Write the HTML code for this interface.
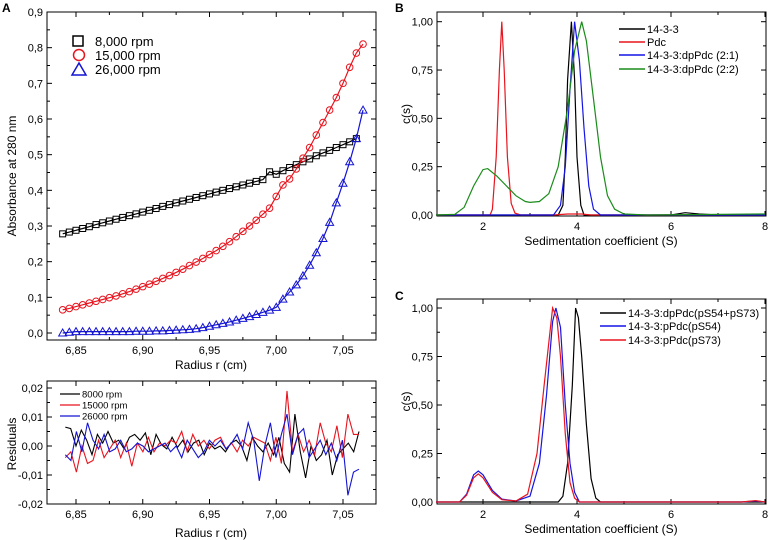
<!DOCTYPE html>
<html><head><meta charset="utf-8"><style>
html,body{margin:0;padding:0;background:#fff;}
svg{display:block;font-family:"Liberation Sans",Arial,sans-serif;}
</style></head><body>
<svg id="fig" width="769" height="540" viewBox="0 0 769 540"></svg>
<script>
// ---------- data ----------
const radiusStart = 6.84, radiusStep = 0.005;
const abs8000 = [0.278,0.283,0.288,0.293,0.298,0.304,0.309,0.314,0.319,0.324,0.329,0.334,0.339,0.344,0.349,0.355,0.360,0.365,0.370,0.375,0.380,0.385,0.390,0.395,0.400,0.405,0.410,0.415,0.420,0.425,0.430,0.452,0.445,0.455,0.464,0.472,0.480,0.488,0.497,0.505,0.512,0.520,0.528,0.536,0.545];
const abs15000 = [0.065,0.069,0.074,0.079,0.084,0.089,0.094,0.099,0.104,0.110,0.116,0.123,0.130,0.137,0.145,0.153,0.161,0.170,0.179,0.189,0.199,0.209,0.220,0.231,0.243,0.256,0.270,0.285,0.300,0.316,0.333,0.350,0.383,0.415,0.432,0.460,0.490,0.520,0.555,0.590,0.625,0.660,0.700,0.745,0.785,0.810];
const abs26000 = [0.000,0.002,0.004,0.004,0.004,0.004,0.004,0.004,0.004,0.004,0.004,0.005,0.005,0.005,0.006,0.006,0.007,0.008,0.009,0.010,0.012,0.015,0.019,0.023,0.027,0.031,0.036,0.041,0.046,0.052,0.058,0.064,0.072,0.095,0.115,0.135,0.160,0.190,0.225,0.265,0.310,0.365,0.420,0.480,0.545,0.625];
const res8000 = [0.0065,0.006,0.000,0.0055,0.002,-0.003,0.004,0.001,0.005,0.001,0.002,-0.001,0.003,0.004,0.002,0.0045,-0.003,0.004,0.0005,-0.001,0.003,-0.0005,0.002,-0.002,0.001,0.002,-0.003,0.001,-0.001,0.000,-0.002,0.001,0.002,0.000,-0.005,0.003,0.000,-0.002,0.001,-0.003,0.003,-0.006,-0.009,0.011,-0.002,-0.011,0.000,-0.005,-0.003,0.002,-0.010,-0.003,-0.001,0.001,-0.002,0.005];
const res15000 = [-0.004,-0.002,-0.009,0.000,-0.006,-0.005,0.002,-0.004,-0.001,0.002,-0.004,0.001,-0.007,0.001,-0.002,0.003,-0.002,0.001,0.000,0.002,0.001,0.005,-0.002,0.004,0.000,0.002,-0.001,0.002,0.003,-0.001,0.001,-0.002,0.002,0.000,0.003,0.002,0.001,-0.005,0.003,-0.006,0.019,-0.002,0.004,-0.002,0.002,-0.003,0.008,0.001,-0.002,0.007,-0.004,0.011,0.004,0.004];
const res26000 = [-0.003,-0.005,0.005,-0.002,0.008,0.002,-0.001,0.004,-0.002,-0.001,0.002,-0.002,-0.001,0.001,0.000,-0.002,-0.001,0.000,0.001,-0.002,0.000,-0.004,0.002,-0.001,-0.004,-0.002,0.002,0.000,0.002,-0.001,0.001,0.004,-0.001,0.008,0.002,-0.012,0.000,0.008,-0.004,0.004,0.011,-0.003,0.004,0.006,-0.004,-0.001,0.002,-0.003,0.001,-0.005,0.002,-0.017,-0.009,-0.008];
const resStep = 0.0042;

const bS_1433 = [1,3.6,3.7,3.75,3.8,3.88,3.95,4.0,4.08,4.15,6.0,6.3,6.6,7,8];
const bC_1433 = [0,0,0.05,0.3,0.7,1.0,0.7,0.3,0.05,0,0,0.012,0.005,0,0];
const bS_pdc = [1,2.15,2.2,2.28,2.35,2.4,2.45,2.52,2.6,2.68,2.8,3.5,3.8,4.1,4.3,8];
const bC_pdc = [0,0,0.03,0.3,0.75,1.0,0.75,0.3,0.06,0.01,0,0,0.005,0.005,0,0];
const bS_21 = [1,3.5,3.65,3.75,3.85,3.95,4.05,4.15,4.25,4.35,4.5,8];
const bC_21 = [0,0,0.05,0.25,0.65,1.0,0.8,0.45,0.15,0.03,0,0];
const bS_22 = [1.0,1.4,1.6,1.8,2.0,2.1,2.3,2.5,2.7,2.9,3.0,3.2,3.4,3.6,3.8,3.95,4.1,4.2,4.35,4.5,4.65,4.8,5,5.5,8];
const bC_22 = [0,0.003,0.04,0.15,0.235,0.24,0.2,0.15,0.1,0.07,0.065,0.07,0.11,0.25,0.55,0.85,1.0,0.9,0.6,0.3,0.1,0.03,0.005,0,0.005];

const cS_dp = [1,3.6,3.7,3.8,3.9,3.97,4.03,4.1,4.2,4.3,4.4,4.5,8];
const cC_dp = [0,0,0.03,0.2,0.6,1.0,0.95,0.75,0.4,0.12,0.02,0,0];
const cS_54 = [1,1.5,1.65,1.8,1.9,2.0,2.2,2.4,2.7,3.0,3.2,3.35,3.48,3.55,3.65,3.75,3.85,3.95,4.05,7.5,7.8,8];
const cC_54 = [0,0,0.04,0.14,0.16,0.14,0.06,0.015,0.005,0.03,0.2,0.55,0.93,1.0,0.9,0.5,0.2,0.05,0,0,0.005,0];
const cS_73 = [1,1.5,1.65,1.8,1.9,2.0,2.2,2.4,2.7,2.95,3.15,3.3,3.48,3.57,3.65,3.75,3.85,3.95,4.05,7.5,7.8,8];
const cC_73 = [0,0,0.035,0.125,0.145,0.125,0.05,0.012,0.005,0.04,0.25,0.6,1.0,0.95,0.75,0.35,0.1,0.02,0,0,0.007,0];

// ---------- helpers ----------
const NS = "http://www.w3.org/2000/svg";
const svg = document.getElementById("fig");
function mk(tag, attrs, parent){ const e=document.createElementNS(NS,tag); for(const k in attrs) e.setAttribute(k,attrs[k]); (parent||svg).appendChild(e); return e; }
function scale(d0,d1,r0,r1){ return v => r0 + (v-d0)*(r1-r0)/(d1-d0); }
function txt(x,y,s,size,anchor,parent,extra){ const t=mk("text",Object.assign({x:x,y:y,"font-size":size,"text-anchor":anchor||"start",fill:"#000"},extra||{}),parent); t.textContent=s; return t; }

function frame(g,L,T,R,B,xt,xm,yt,ym,sx,sy,xfmt,yfmt){
  const box = mk("rect",{x:L,y:T,width:R-L,height:B-T,fill:"none",stroke:"#000","stroke-width":1},g);
  
  
  const tk = mk("g",{stroke:"#000","stroke-width":1},g);
  
  
  xt.forEach(v=>{const x=sx(v); mk("line",{x1:x,y1:B,x2:x,y2:B-5},tk); mk("line",{x1:x,y1:T,x2:x,y2:T+5},tk);});
  xm.forEach(v=>{const x=sx(v); mk("line",{x1:x,y1:B,x2:x,y2:B-3},tk); mk("line",{x1:x,y1:T,x2:x,y2:T+3},tk);});
  yt.forEach(v=>{const y=sy(v); mk("line",{x1:L,y1:y,x2:L+5,y2:y},tk); mk("line",{x1:R,y1:y,x2:R-5,y2:y},tk);});
  ym.forEach(v=>{const y=sy(v); mk("line",{x1:L,y1:y,x2:L+3,y2:y},tk); mk("line",{x1:R,y1:y,x2:R-3,y2:y},tk);});
  const xl = mk("g",{},g);
  
  
  xt.forEach(v=>txt(sx(v),B+14,xfmt(v),11,"middle",xl));
  const yl = mk("g",{},g);
  
  
  yt.forEach(v=>txt(L-4,sy(v)+4,yfmt(v),11,"end",yl));
}
function poly(g,xs,ys,sx,sy,color,w){
  const pts = xs.map((x,i)=>sx(x).toFixed(1)+","+sy(ys[i]).toFixed(1)).join(" ");
  return mk("polyline",{points:pts,fill:"none",stroke:color,"stroke-width":w||1},g);
}
const c2 = v => v.toFixed(2).replace(".",",");
const c1 = v => v.toFixed(1).replace(".",",");

// ---------- panel A top ----------
(function(){
  const g = mk("g",{});
  
  
  const L=47,T=12,R=376,B=340;
  const sx = scale(6.85,7.05,76,343), sy = scale(0,0.9,333,12);
  frame(g,L,T,R,B,[6.85,6.90,6.95,7.00,7.05],[6.875,6.925,6.975,7.025],[0,.1,.2,.3,.4,.5,.6,.7,.8,.9],[.05,.15,.25,.35,.45,.55,.65,.75,.85],sx,sy,c2,c1);
  const series=[[abs8000,"#000","sq"],[abs15000,"#e8141e","ci"],[abs26000,"#1414d2","tr"]];
  series.forEach(([arr,col,shape])=>{
    const xs = arr.map((v,i)=>radiusStart+radiusStep*i);
    const sg = mk("g",{},g);
    
    
    poly(sg,xs,arr,sx,sy,col,1.2);
    arr.forEach((v,i)=>{
      const x=sx(xs[i]), y=sy(v); let m;
      if(shape==="sq") m=mk("rect",{x:x-3,y:y-3,width:6,height:6,fill:"none",stroke:col},sg);
      else if(shape==="ci") m=mk("circle",{cx:x,cy:y,r:3.3,fill:"none",stroke:col},sg);
      else m=mk("polygon",{points:`${x},${y-4} ${x-4},${y+3} ${x+4},${y+3}`,fill:"none",stroke:col},sg);
      
      
    });
  });
  const yt = txt(0,0,"Absorbance at 280 nm",12,"middle",g,{transform:"translate(16,176) rotate(-90)"});
  
  
  const xtl = txt(211,369,"Radius r (cm)",12,"middle",g);
  
  
  const lg = mk("g",{},g);
  
  
  mk("rect",{x:73,y:36,width:10,height:10,fill:"none",stroke:"#000","stroke-width":1.5},lg);
  txt(95,46,"8,000 rpm",13,"start",lg);
  mk("circle",{cx:79,cy:55,r:5.5,fill:"none",stroke:"#e8141e","stroke-width":1.5},lg);
  txt(95,60,"15,000 rpm",13,"start",lg);
  mk("polygon",{points:"79,63 72,75 86,75",fill:"none",stroke:"#1414d2","stroke-width":1.5},lg);
  txt(95,74,"26,000 rpm",13,"start",lg);
  const pl = txt(2,12,"A",12,"start",g,{"font-weight":"bold"});
  
  
})();

// ---------- panel A residuals ----------
(function(){
  const g = mk("g",{});
  
  
  const L=47,T=381,R=376,B=504;
  const sx = scale(6.85,7.05,76,343), sy = scale(0,0.01,446,417);
  frame(g,L,T,R,B,[6.85,6.90,6.95,7.00,7.05],[6.875,6.925,6.975,7.025],[-0.02,-0.01,0,0.01,0.02],[-0.015,-0.005,0.005,0.015],sx,sy,c2,c2);
  [[res8000,"#000"],[res15000,"#e8141e"],[res26000,"#1414d2"]].forEach(([arr,col],k)=>{
    const step = (7.062-6.842)/(arr.length-1);
    const xs = arr.map((v,i)=>6.842+step*i);
    const p = poly(g,xs,arr,sx,sy,col,1.1);
    
    
  });
  const yt = txt(0,0,"Residuals",12,"middle",g,{transform:"translate(16,444) rotate(-90)"});
  
  
  const xtl = txt(211,537,"Radius r (cm)",12,"middle",g);
  
  
  const lg = mk("g",{},g);
  
  
  [["8000 rpm","#000"],["15000 rpm","#e8141e"],["26000 rpm","#1414d2"]].forEach(([s,c],i)=>{
    const y=394+i*11;
    mk("line",{x1:60,y1:y,x2:80,y2:y,stroke:c,"stroke-width":1.3},lg);
    txt(82,y+3.5,s,9.5,"start",lg);
  });
})();

// ---------- panel B & C ----------
function sedPanel(name,label,T,B,y1,y0,curves,legY,legX,labelY){
  const g = mk("g",{});
  
  
  const L=437,R=766;
  const sx = scale(2,8,483,765), sy = scale(0,1,y0,y1);
  frame(g,L,T,R,B,[2,4,6,8],[3,5,7],[0,.25,.5,.75,1],[.125,.375,.625,.875],sx,sy,v=>String(v),c2);
  curves.forEach(([xs,ys,col,nm])=>{
    const p=poly(g,xs,ys,sx,sy,col,1.2);
    
    
  });
  const yt = txt(0,0,"c(s)",12,"middle",g,{transform:`translate(410,${(T+B)/2}) rotate(-90)`});
  
  
  const xtl = txt(601,B+29,"Sedimentation coefficient (S)",12,"middle",g);
  
  
  const lg = mk("g",{},g);
  
  
  curves.forEach(([xs,ys,col,nm,lab],i)=>{
    const y=legY[i];
    mk("line",{x1:legX,y1:y,x2:legX+26,y2:y,stroke:col,"stroke-width":1.5},lg);
    txt(legX+28,y+4,lab,11,"start",lg);
  });
  const pl = txt(395,labelY,label,12,"start",g,{"font-weight":"bold"});
  
  
}
sedPanel("panel-b","B",12,216,21.7,215,[
  [bS_1433,bC_1433,"#000","1433","14-3-3"],
  [bS_pdc,bC_pdc,"#e8141e","pdc","Pdc"],
  [bS_21,bC_21,"#1414e6","21","14-3-3:dpPdc (2:1)"],
  [bS_22,bC_22,"#1a8c1a","22","14-3-3:dpPdc (2:2)"]
],[29,42,55,69],619,12);
sedPanel("panel-c","C",299,504,308,502,[
  [cS_dp,cC_dp,"#000","dp","14-3-3:dpPdc(pS54+pS73)"],
  [cS_54,cC_54,"#1414e6","ps54","14-3-3:pPdc(pS54)"],
  [cS_73,cC_73,"#e8141e","ps73","14-3-3:pPdc(pS73)"]
],[313,326,340],600,300);
</script>
</body></html>
